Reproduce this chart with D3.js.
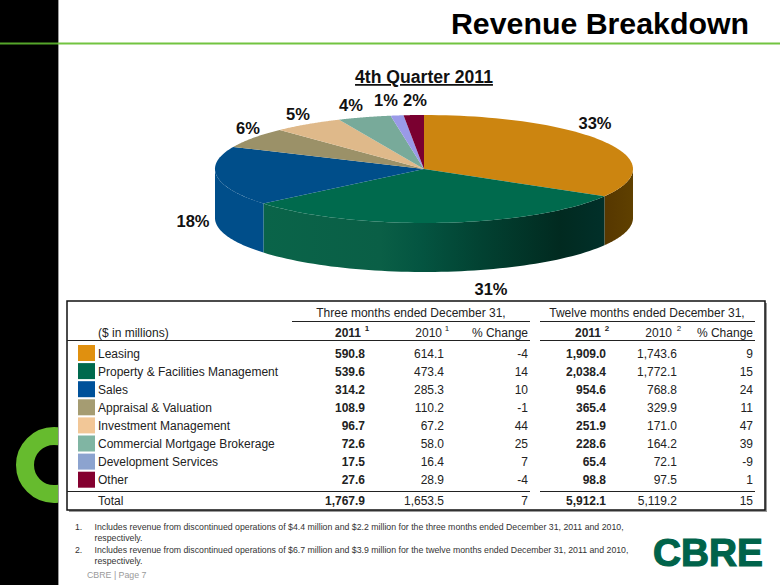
<!DOCTYPE html>
<html><head><meta charset="utf-8">
<script src="https://cdn.jsdelivr.net/npm/d3@7/dist/d3.min.js"></script>
<style>html,body{margin:0;padding:0;background:#fff}svg{display:block}text{font-family:"Liberation Sans",Arial,sans-serif}</style>
</head><body><svg id="c" width="780" height="585"></svg>
<script>
const categories=["Leasing","Property & Facilities Management","Sales","Appraisal & Valuation","Investment Management","Commercial Mortgage Brokerage","Development Services","Other"];
const q4_2011=[590.8,539.6,314.2,108.9,96.7,72.6,17.5,27.6];
const q4_2010=[614.1,473.4,285.3,110.2,67.2,58.0,16.4,28.9];
const q4_change=[-4,14,10,-1,44,25,7,-4];
const fy_2011=[1909.0,2038.4,954.6,365.4,251.9,228.6,65.4,98.8];
const fy_2010=[1743.6,1772.1,768.8,329.9,171.0,164.2,72.1,97.5];
const fy_change=[9,15,24,11,47,39,-9,1];
const totals=[1767.9,1653.5,7,5912.1,5119.2,15];
const pctLabels=["33%","31%","18%","6%","5%","4%","1%","2%"];
const pieColors=["#cc8510","#006a4d","#004e8a","#9b9168","#dfb98a","#78aa9a","#9a9ae8","#7a0030"];
const swatchColors=["#e0900f","#00694d","#00519a","#a59c72","#f2c797","#80b5a3","#8ca3cf","#84002f"];
const footnotes=[["1.","Includes revenue from discontinued operations of $4.4 million and $2.2 million for the three months ended December 31, 2011 and 2010,","respectively."],["2.","Includes revenue from discontinued operations of $6.7 million and $3.9 million for the twelve months ended December 31, 2011 and 2010,","respectively."]];

const svg=d3.select("#c");
const defs=svg.append("defs");
// frame
svg.append("rect").attr("x",0).attr("y",0).attr("width",58).attr("height",585).attr("fill","#000");
svg.append("rect").attr("x",58).attr("y",0).attr("width",1).attr("height",585).attr("fill","#9a9a9a");
defs.append("clipPath").attr("id","band").append("rect").attr("x",0).attr("y",0).attr("width",58).attr("height",585);
svg.append("circle").attr("cx",54).attr("cy",465).attr("r",29).attr("fill","none").attr("stroke","#66bb2e").attr("stroke-width",18).attr("clip-path","url(#band)");
svg.append("rect").attr("x",0).attr("y",42.5).attr("width",58).attr("height",2).attr("fill","#55a52a");
svg.append("rect").attr("x",58).attr("y",42.5).attr("width",722).attr("height",2).attr("fill","#72c440");
svg.append("text").attr("x",749).attr("y",34).attr("text-anchor","end").attr("font-size",30.3).attr("font-weight",700).attr("fill","#000").text("Revenue Breakdown");

// pie title
svg.append("text").attr("x",424).attr("y",83).attr("text-anchor","middle").attr("font-size",17.6).attr("font-weight",700).attr("text-decoration","underline").attr("fill","#111").text("4th Quarter 2011");

// pie
const cx=424,cy=169,rx=209,ry=54,depth=49;
const arcs=d3.pie().sort(null)(q4_2011);
const px=a=>cx+rx*Math.sin(a), py=a=>cy-ry*Math.cos(a);
const samples=(a0,a1)=>d3.range(0,61).map(i=>a0+(a1-a0)*i/60);
const line=d3.line();
const grad=(id,stops)=>{const g=defs.append("linearGradient").attr("id",id).attr("gradientUnits","userSpaceOnUse").attr("x1",215).attr("x2",633).attr("y1",0).attr("y2",0);
  stops.forEach(s=>g.append("stop").attr("offset",(s[0]-215)/418).attr("stop-color",s[1]));};
grad("gGreen",[[264,"#0a6449"],[380,"#0a5f46"],[420,"#045541"],[480,"#024232"],[560,"#012a20"],[607,"#01302a"]]);
grad("gBrown",[[607,"#573800"],[633,"#5f4000"]]);
const wallFill=["url(#gBrown)","url(#gGreen)","#004e8a"];
arcs.forEach((d,i)=>{
  const a0=d.startAngle,a1=d.endAngle;
  const lo=Math.max(a0,Math.PI/2),hi=Math.min(a1,3*Math.PI/2);
  if(hi<=lo) return;
  const top=samples(lo,hi).map(a=>[px(a),py(a)]);
  const bot=samples(hi,lo).map(a=>[px(a),py(a)+depth]);
  svg.append("path").attr("d",line(top.concat(bot))+"Z").attr("fill",wallFill[i]||pieColors[i]);
});
arcs.forEach((d,i)=>{
  const pts=[[cx,cy]].concat(samples(d.startAngle,d.endAngle).map(a=>[px(a),py(a)]));
  svg.append("path").attr("d",line(pts)+"Z").attr("fill",pieColors[i]);
});
const labelXY=[[595,123],[491,289],[193,221],[248,128],[298,114],[351,105],[386,100],[415,100]];
svg.selectAll(".pl").data(pctLabels).join("text").attr("text-anchor","middle").attr("font-size",16.5).attr("font-weight",700).attr("fill","#111")
  .attr("x",(d,i)=>labelXY[i][0]).attr("y",(d,i)=>labelXY[i][1]+6).text(d=>d);

// table
const L=67,R=765,T=301,B=510;
svg.append("rect").attr("x",L+2).attr("y",T+2).attr("width",R-L).attr("height",B-T).attr("fill","#999");
svg.append("rect").attr("x",L).attr("y",T).attr("width",R-L).attr("height",B-T).attr("fill","#fff").attr("stroke","#111").attr("stroke-width",1.5);
const hr=(x1,x2,y,c="#222")=>svg.append("line").attr("x1",x1).attr("x2",x2).attr("y1",y).attr("y2",y).attr("stroke",c).attr("stroke-width",1);
hr(292,530,321.5);hr(540,755,321.5);
hr(L,530,340.5);hr(540,755,340.5);
hr(L,530,491.5);hr(540,755,491.5);
const FS=12,ink="#222";
const tx=(x,y,s,o={})=>svg.append("text").attr("x",x).attr("y",y).attr("font-size",o.fs||FS).attr("font-weight",o.b?700:400).attr("fill",o.c||ink).attr("text-anchor",o.a||"end").text(s);
tx(411,317,"Three months ended December 31,",{a:"middle"});
tx(647,317,"Twelve months ended December 31,",{a:"middle"});
tx(98,336.5,"($ in millions)",{a:"start"});
const heads=[[361,"2011",1,"1",367],[442,"2010",0,"1",447],[528,"% Change",0,null],[601,"2011",1,"2",607],[672,"2010",0,"2",679],[753,"% Change",0,null]];
heads.forEach(h=>{tx(h[0],336.5,h[1],{b:h[2]});if(h[3])tx(h[4],331,h[3],{a:"middle",fs:8,b:h[2]});});
const colX=[365,444,528,606,677,753];
const f1=d3.format(",.1f"),f0=v=>String(v);
const rowY=d3.scalePoint().domain(categories).range([353,353+18.1*7]);
const cols=[q4_2011,q4_2010,q4_change,fy_2011,fy_2010,fy_change];
categories.forEach((c,i)=>{
  const y=rowY(c);
  svg.append("rect").attr("x",78).attr("y",y-8).attr("width",17).attr("height",16).attr("fill",swatchColors[i]);
  tx(98,y+4.5,c,{a:"start"});
  cols.forEach((col,j)=>tx(colX[j],y+4.5,(j%3==2?f0:f1)(col[i]),{b:j%3==0}));
});
tx(98,504.5,"Total",{a:"start"});
totals.forEach((v,j)=>tx(colX[j],504.5,(j%3==2?f0:f1)(v),{b:j%3==0}));

// footnotes
const fnY=[530,553];
footnotes.forEach((f,i)=>{
  tx(75,fnY[i],f[0],{a:"start",fs:8.75,c:"#333"});
  tx(94.5,fnY[i],f[1],{a:"start",fs:8.75,c:"#333"});
  tx(94.5,fnY[i]+10.5,f[2],{a:"start",fs:8.75,c:"#333"});
});
tx(87,578,"CBRE  |  Page 7",{a:"start",fs:8.8,c:"#9a9a9a"});
svg.append("text").attr("x",653).attr("y",566).attr("font-size",39).attr("font-weight",700).attr("fill","#00634a").attr("stroke","#00634a").attr("stroke-width",1.2).attr("textLength",110).attr("lengthAdjust","spacingAndGlyphs").text("CBRE");
</script></body></html>
